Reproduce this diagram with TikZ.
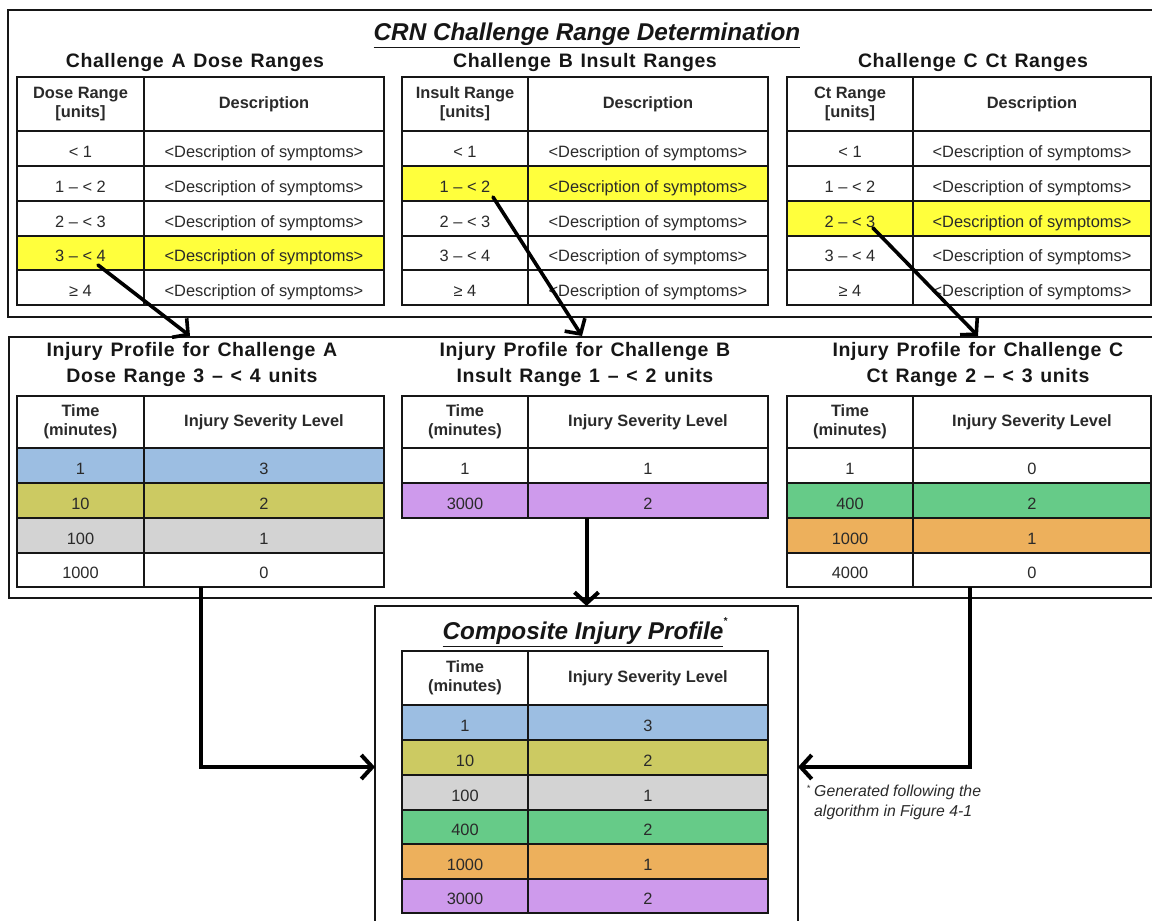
\documentclass[tikz,border=0pt]{standalone}
\usepackage{fontspec}
\setmainfont{Liberation Sans}
\newfontfamily\headfont{Liberation Sans}[WordSpace=1.3, LetterSpace=3]
\usetikzlibrary{arrows.meta}

\definecolor{ink}{HTML}{161616}
\definecolor{txt}{HTML}{2A2A2A}
\definecolor{hlyellow}{HTML}{FFFF3C}
\definecolor{sevblue}{HTML}{9CBEE2}
\definecolor{sevolive}{HTML}{CCCA62}
\definecolor{sevgray}{HTML}{D3D3D3}
\definecolor{sevgreen}{HTML}{66CB88}
\definecolor{sevorange}{HTML}{EDB05C}
\definecolor{sevpurple}{HTML}{CE9AEC}

\tikzset{
  cell/.style={draw=ink, line width=1.6pt, inner sep=0pt, outer sep=0pt,
    fill=white, text=txt, align=center, font=\fontsize{16.4}{18.5}\selectfont,
    text height=17.6pt, text depth=0pt},
  headcell/.style={font=\bfseries\fontsize{16.4}{18.5}\selectfont,
    text height={}, text depth={}},
  frame/.style={draw=ink, line width=1.8pt, inner sep=0pt, outer sep=0pt},
  tabletitle/.style={align=center, text=ink, inner sep=0pt,
    font=\headfont\bfseries\fontsize{19.5}{26}\selectfont},
  maintitle/.style={text=ink, inner sep=0pt,
    font=\bfseries\itshape\fontsize{24.3}{27}\selectfont},
  pick/.style={line width=3.6pt, line cap=round, -{Straight Barb[length=11pt,width=24pt]}},
  flow/.style={line width=4pt, -{Straight Barb[length=11pt,width=24pt]}},
  note/.style={align=left, text=txt, inner sep=0pt,
    font=\itshape\fontsize{15.8}{20}\selectfont}
}

% one table row: name, x-left, x-split, x-right, y-top, y-bottom, style, left text, right text
\newcommand\trow[9]{%
  \node[cell, #7, minimum width={(#3-#2)*1pt}, minimum height={(#6-#5)*1pt}]
    (#1-1) at ({(#2+#3)/2},{(#5+#6)/2}) {#8};
  \node[cell, #7, minimum width={(#4-#3)*1pt}, minimum height={(#6-#5)*1pt}]
    (#1-2) at ({(#3+#4)/2},{(#5+#6)/2}) {#9};
}
\newcommand\dsc{<Description of symptoms>}

\begin{document}
\begin{tikzpicture}[x=1pt,y=-1pt]
\useasboundingbox (0,0) rectangle (1152,921);
\fill[white] (0,0) rectangle (1152,921);

% ---------- range determination ----------
\node[frame, minimum width=1162pt, minimum height=307pt] (topframe) at (589,163.5) {};
\node[maintitle] (crn) at (587,35.5) {\underline{CRN Challenge Range Determination}};

\node[tabletitle] (ta-t) at (195,62) {Challenge A Dose Ranges};
\node[tabletitle] (tb-t) at (585,62) {Challenge B Insult Ranges};
\node[tabletitle] (tc-t) at (973,62) {Challenge C Ct Ranges};

\trow{ta-h}{17}{144}{384}{77}{131}{headcell}{Dose Range\\{}[units]}{Description}
\trow{ta-1}{17}{144}{384}{131}{166}{}{< 1}{\dsc}
\trow{ta-2}{17}{144}{384}{166}{201}{}{1 – < 2}{\dsc}
\trow{ta-3}{17}{144}{384}{201}{236}{}{2 – < 3}{\dsc}
\trow{ta-4}{17}{144}{384}{236}{270}{fill=hlyellow}{3 – < 4}{\dsc}
\trow{ta-5}{17}{144}{384}{270}{305}{}{≥ 4}{\dsc}

\trow{tb-h}{402}{528}{768}{77}{131}{headcell}{Insult Range\\{}[units]}{Description}
\trow{tb-1}{402}{528}{768}{131}{166}{}{< 1}{\dsc}
\trow{tb-2}{402}{528}{768}{166}{201}{fill=hlyellow}{1 – < 2}{\dsc}
\trow{tb-3}{402}{528}{768}{201}{236}{}{2 – < 3}{\dsc}
\trow{tb-4}{402}{528}{768}{236}{270}{}{3 – < 4}{\dsc}
\trow{tb-5}{402}{528}{768}{270}{305}{}{≥ 4}{\dsc}

\trow{tc-h}{787}{913}{1151}{77}{131}{headcell}{Ct Range\\{}[units]}{Description}
\trow{tc-1}{787}{913}{1151}{131}{166}{}{< 1}{\dsc}
\trow{tc-2}{787}{913}{1151}{166}{201}{}{1 – < 2}{\dsc}
\trow{tc-3}{787}{913}{1151}{201}{236}{fill=hlyellow}{2 – < 3}{\dsc}
\trow{tc-4}{787}{913}{1151}{236}{270}{}{3 – < 4}{\dsc}
\trow{tc-5}{787}{913}{1151}{270}{305}{}{≥ 4}{\dsc}

% ---------- individual injury profiles ----------
\node[frame, minimum width=1161pt, minimum height=261pt] (midframe) at (589.5,467.5) {};

\node[tabletitle] (ia-t) at (192,364) {Injury Profile for Challenge A\\Dose Range 3 – < 4 units};
\node[tabletitle] (ib-t) at (585,364) {Injury Profile for Challenge B\\Insult Range 1 – < 2 units};
\node[tabletitle] (ic-t) at (978,364) {Injury Profile for Challenge C\\Ct Range 2 – < 3 units};

\trow{ia-h}{17}{144}{384}{396}{448}{headcell}{Time\\(minutes)}{Injury Severity Level}
\trow{ia-1}{17}{144}{384}{448}{483}{fill=sevblue}{1}{3}
\trow{ia-2}{17}{144}{384}{483}{518}{fill=sevolive}{10}{2}
\trow{ia-3}{17}{144}{384}{518}{553}{fill=sevgray}{100}{1}
\trow{ia-4}{17}{144}{384}{553}{587}{}{1000}{0}

\trow{ib-h}{402}{528}{768}{396}{448}{headcell}{Time\\(minutes)}{Injury Severity Level}
\trow{ib-1}{402}{528}{768}{448}{483}{}{1}{1}
\trow{ib-2}{402}{528}{768}{483}{518}{fill=sevpurple}{3000}{2}

\trow{ic-h}{787}{913}{1151}{396}{448}{headcell}{Time\\(minutes)}{Injury Severity Level}
\trow{ic-1}{787}{913}{1151}{448}{483}{}{1}{0}
\trow{ic-2}{787}{913}{1151}{483}{518}{fill=sevgreen}{400}{2}
\trow{ic-3}{787}{913}{1151}{518}{553}{fill=sevorange}{1000}{1}
\trow{ic-4}{787}{913}{1151}{553}{587}{}{4000}{0}

% ---------- composite profile ----------
\node[frame, minimum width=423pt, minimum height=322pt] (compframe) at (586.5,767) {};
\node[maintitle] (cp-t) at (585,632) {\underline{Composite Injury Profile}\raisebox{1.2ex}{\fontsize{10}{10}\selectfont *}};

\trow{cp-h}{402}{528}{768}{651}{705}{headcell}{Time\\(minutes)}{Injury Severity Level}
\trow{cp-1}{402}{528}{768}{705}{740}{fill=sevblue}{1}{3}
\trow{cp-2}{402}{528}{768}{740}{775}{fill=sevolive}{10}{2}
\trow{cp-3}{402}{528}{768}{775}{810}{fill=sevgray}{100}{1}
\trow{cp-4}{402}{528}{768}{810}{844}{fill=sevgreen}{400}{2}
\trow{cp-5}{402}{528}{768}{844}{879}{fill=sevorange}{1000}{1}
\trow{cp-6}{402}{528}{768}{879}{913}{fill=sevpurple}{3000}{2}

\node[note, anchor=north west] (fn) at (814,785)
  {\llap{\fontsize{9}{9}\selectfont\raisebox{1ex}{*}\hspace{4pt}}Generated following the\\algorithm in Figure 4-1};

% ---------- connectors ----------
\coordinate (aFrom) at (98,265);
\coordinate (aTo) at (190,336);
\coordinate (bFrom) at (493,197);
\coordinate (bTo) at (582,336);
\coordinate (cFrom) at (873,228);
\coordinate (cTo) at (978,336);
\coordinate (aOut) at (201,587);
\coordinate (cOut) at (970,587);

\draw[pick] (aFrom) -- (aTo);
\draw[pick] (bFrom) -- (bTo);
\draw[pick] (cFrom) -- (cTo);
\draw[flow] (ib-2-2.south -| compframe.north) -- (compframe.north);
\draw[flow] (aOut) |- (compframe.west);
\draw[flow] (cOut) |- (compframe.east);
\end{tikzpicture}
\end{document}
